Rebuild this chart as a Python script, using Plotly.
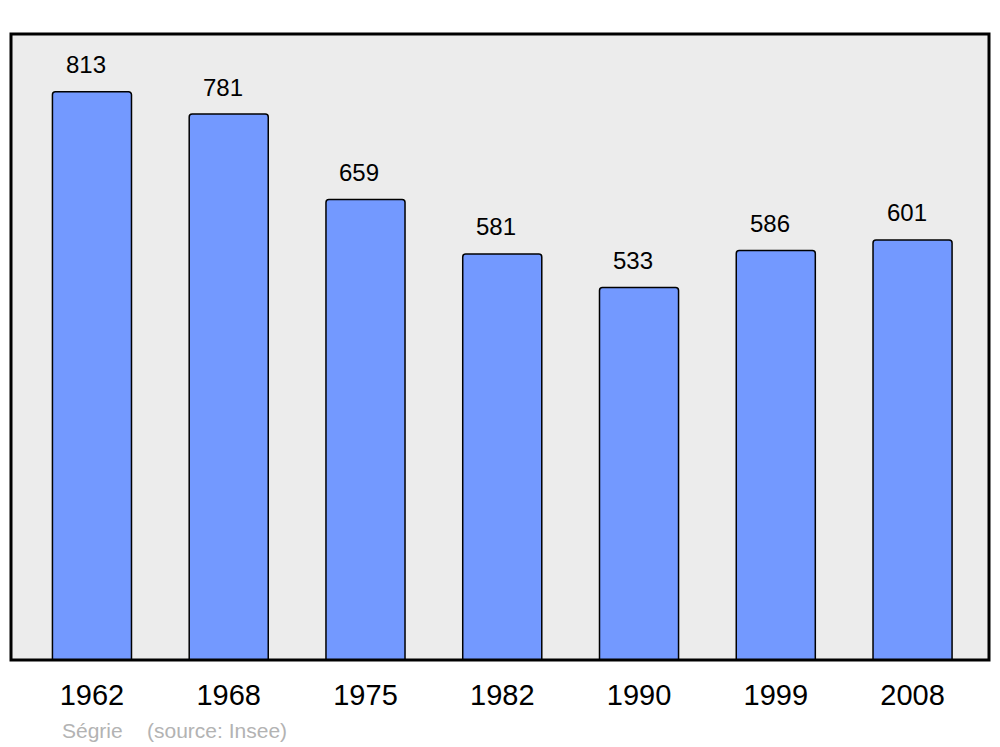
import plotly.graph_objects as go

years = ["1962", "1968", "1975", "1982", "1990", "1999", "2008"]
population = [813, 781, 659, 581, 533, 586, 601]
commune = "Ségrie"
source = "(source: Insee)"

xpos = list(range(len(years)))

fig = go.Figure()
fig.add_trace(go.Bar(
    x=xpos, y=population, width=0.578,
    marker=dict(color="#7399ff", line=dict(color="#000000", width=1.5), cornerradius=3),
    hoverinfo="x+y",
))

for i, v in zip(xpos, population):
    fig.add_annotation(x=i, y=v, text=str(v), showarrow=False, xanchor="center",
                       yanchor="middle", yshift=27, xshift=-6,
                       font=dict(family="Liberation Sans, Arial, sans-serif", size=24, color="#000000"))

fig.add_annotation(xref="paper", yref="paper", x=0.050, y=-0.112, text=commune, showarrow=False,
                   xanchor="left", yanchor="middle",
                   font=dict(family="Liberation Sans, Arial, sans-serif", size=21, color="#b3b3b3"))
fig.add_annotation(xref="paper", yref="paper", x=0.137, y=-0.112, text=source, showarrow=False,
                   xanchor="left", yanchor="middle",
                   font=dict(family="Liberation Sans, Arial, sans-serif", size=21, color="#b3b3b3"))

fig.add_shape(type="rect", xref="paper", yref="paper", x0=0, y0=0, x1=1, y1=1,
              line=dict(color="#000000", width=3), layer="above")

fig.update_layout(
    width=1000, height=747,
    margin=dict(l=11, r=11, t=34, b=87),
    paper_bgcolor="#ffffff", plot_bgcolor="#ececec",
    showlegend=False,
    xaxis=dict(range=[-0.592, 6.559], tickmode="array", tickvals=xpos, ticktext=years,
               showgrid=False, zeroline=False, ticks="outside", ticklen=9,
               tickcolor="rgba(0,0,0,0)",
               tickfont=dict(family="Liberation Sans, Arial, sans-serif", size=29, color="#000000")),
    yaxis=dict(range=[0, 895.6], showgrid=False, zeroline=False, showticklabels=False, ticks=""),
)

fig.write_html("out.html", config={"displayModeBar": False},
               post_script="document.body.style.margin='0';document.body.style.overflow='hidden';")
